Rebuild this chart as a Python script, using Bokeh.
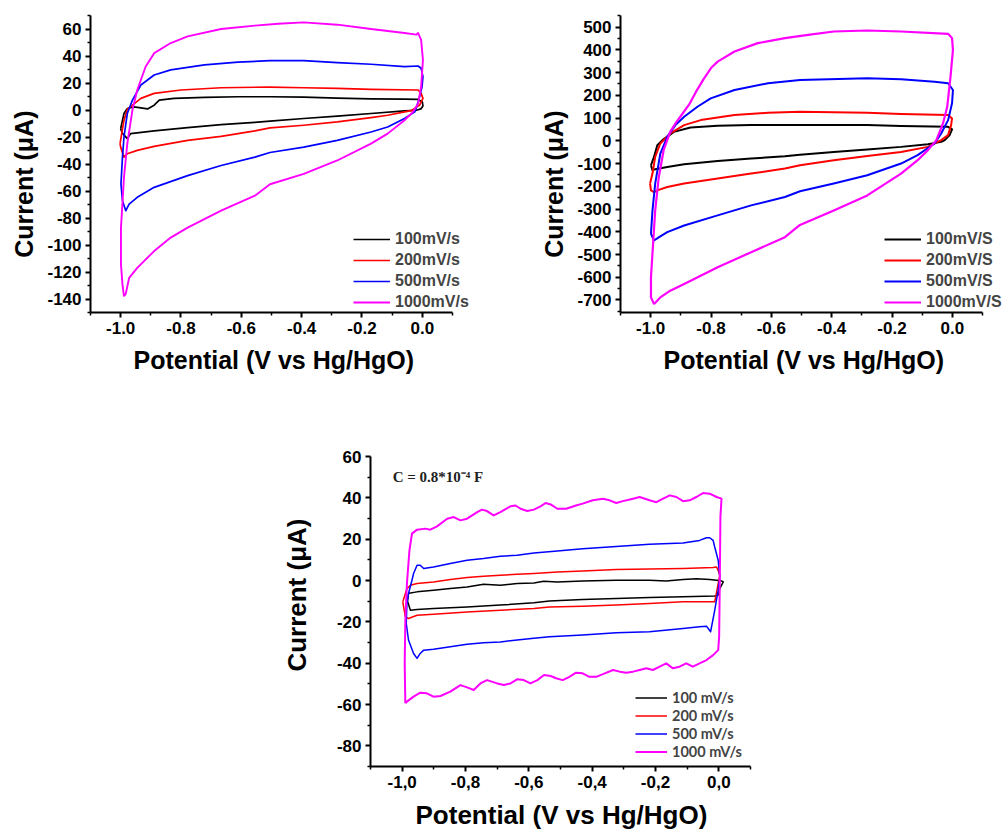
from bokeh.plotting import figure
from bokeh.models import FixedTicker, Legend, LegendItem, Label, Spacer, CustomJSTickFormatter, Range1d, Title
from bokeh.layouts import row, column
from bokeh.embed import file_html
from bokeh.resources import INLINE

# ---------------- data ----------------
series_labels_top_left = ["100mV/s", "200mV/s", "500mV/s", "1000mV/s"]
series_labels_top_right = ["100mV/S", "200mV/S", "500mV/S", "1000mV/S"]
series_labels_bottom = ["100 mV/s", "200 mV/s", "500 mV/s", "1000 mV/s"]
series_colors = ["#000000", "#ff0000", "#0000ff", "#ff00ff"]

# Panel 1 (top left)
p1_black_E = [-1.0, -0.989, -0.978, -0.956, -0.933, -0.911, -0.889, -0.872, -0.823, -0.722, -0.611, -0.505, -0.393, -0.282, -0.17, -0.06, -0.014, 0.0, 0.002, -0.005,
              -0.02, -0.059, -0.17, -0.282, -0.393, -0.505, -0.555, -0.667, -0.778, -0.889, -0.967, -0.978, -0.995, -1.0]
p1_black_I = [-13.8, -2.6, 1.1, 2.3, 1.6, 0.8, 3.6, 7.3, 8.6, 9.3, 9.8, 9.8, 9.5, 8.8, 8.3, 8.0, 7.8, 6.0, 3.0, 0.8,
              -0.2, -0.6, -2.6, -4.6, -6.3, -8.3, -9.1, -10.8, -13.0, -15.5, -17.5, -21.2, -17.0, -13.8]

p1_red_E = [-1.002, -0.994, -0.989, -0.978, -0.961, -0.933, -0.889, -0.8, -0.667, -0.505, -0.393, -0.282, -0.17, -0.014, -0.004, 0.002, -0.009,
            -0.037, -0.059, -0.115, -0.17, -0.282, -0.393, -0.505, -0.555, -0.667, -0.778, -0.889, -0.945, -0.978, -0.989, -1.0, -1.002]
p1_red_I = [-24.9, -14.0, -7.6, 0.4, 3.6, 8.6, 12.3, 14.8, 16.5, 17.0, 16.5, 16.0, 15.3, 14.8, 12.3, 8.6, 3.6,
            -0.5, -1.4, -3.9, -5.6, -8.8, -11.3, -13.3, -15.5, -19.5, -22.5, -27.0, -29.9, -32.4, -34.9, -27.5, -24.9]

p1_blue_E = [-0.999, -0.994, -0.989, -0.978, -0.961, -0.933, -0.889, -0.834, -0.722, -0.611, -0.505, -0.393, -0.282, -0.17, -0.059, -0.014, -0.004, 0.002, -0.001, -0.012,
             -0.025, -0.059, -0.115, -0.17, -0.282, -0.393, -0.505, -0.555, -0.667, -0.778, -0.889, -0.945, -0.972, -0.983, -0.994, -0.999]
p1_blue_I = [-54.8, -34.9, -20.0, -2.6, 7.3, 18.5, 25.9, 29.7, 33.4, 35.4, 36.6, 36.6, 35.1, 33.9, 32.2, 32.6, 30.9, 24.7, 17.2, 7.3,
             -1.4, -6.3, -12.6, -16.3, -22.5, -27.5, -31.5, -34.9, -41.1, -48.6, -57.3, -64.7, -69.7, -74.6, -67.2, -54.8]

p1_mag_E = [-0.989, -0.994, -0.999, -0.999, -0.989, -0.978, -0.961, -0.945, -0.917, -0.889, -0.834, -0.778, -0.667, -0.555, -0.478, -0.393, -0.282, -0.17, -0.059, -0.02, -0.014, -0.004, 0.002, -0.004, -0.014,
            -0.031, -0.059, -0.115, -0.17, -0.282, -0.393, -0.505, -0.555, -0.667, -0.778, -0.834, -0.889, -0.945, -0.972, -0.983, -0.989]
p1_mag_I = [-138.0, -129.3, -114.4, -87.1, -49.8, -24.9, -0.1, 14.8, 32.2, 42.1, 49.6, 54.5, 60.0, 62.5, 63.9, 64.9, 63.2, 60.0, 57.0, 55.8, 57.0, 52.0, 37.1, 17.2, 4.8,
            -1.4, -7.6, -17.5, -24.9, -37.4, -47.3, -55.0, -63.5, -74.6, -87.1, -94.5, -104.5, -116.9, -124.4, -136.0, -138.0]

# Panel 2 (top right)
p2_black_E = [-0.999, -0.989, -0.978, -0.961, -0.923, -0.868, -0.778, -0.667, -0.505, -0.282, -0.17, -0.014, -0.001, -0.009, -0.025,
              -0.037, -0.081, -0.17, -0.282, -0.393, -0.505, -0.555, -0.667, -0.778, -0.889, -0.945, -0.989, -0.994, -0.999]
p2_black_I = [-107.5, -70.8, -19.3, 2.8, 39.4, 58.8, 66.0, 69.0, 69.0, 69.0, 64.6, 61.5, 50.0, 25.0, 3.0,
              -4.7, -14.8, -26.7, -38.0, -48.8, -61.0, -67.8, -78.0, -88.4, -103.0, -114.9, -126.5, -129.5, -107.5]

p2_red_E = [-1.002, -0.994, -0.985, -0.968, -0.935, -0.889, -0.834, -0.722, -0.611, -0.505, -0.282, -0.17, -0.014, -0.001, -0.004, -0.014, -0.037,
            -0.081, -0.17, -0.282, -0.393, -0.505, -0.555, -0.667, -0.778, -0.889, -0.945, -0.978, -0.989, -0.999, -1.002]
p2_red_I = [-188.0, -144.0, -70.8, -11.8, 32.4, 69.0, 91.0, 113.1, 123.4, 127.7, 123.4, 117.5, 113.1, 98.5, 69.0, 25.0, 3.0,
            -26.7, -48.8, -66.4, -85.4, -107.5, -122.0, -144.0, -166.0, -188.0, -203.2, -217.8, -225.2, -217.8, -188.0]

p2_blue_E = [-0.999, -0.994, -0.985, -0.968, -0.945, -0.918, -0.889, -0.845, -0.801, -0.722, -0.611, -0.505, -0.282, -0.17, -0.059, -0.014, 0.002, -0.001, -0.014, -0.037,
             -0.059, -0.115, -0.17, -0.282, -0.393, -0.505, -0.555, -0.667, -0.778, -0.889, -0.945, -0.972, -0.989, -0.999]
p2_blue_I = [-408.8, -306.0, -188.0, -56.0, 17.4, 69.0, 105.6, 149.7, 186.8, 223.4, 253.0, 267.5, 275.0, 270.6, 260.0, 253.0, 223.4, 164.7, 91.0, 32.4,
             -11.8, -63.0, -100.0, -151.6, -188.0, -222.0, -247.3, -284.0, -328.0, -372.2, -401.7, -423.8, -438.4, -408.8]

p2_mag_E = [-0.989, -0.999, -0.999, -0.992, -0.985, -0.973, -0.957, -0.935, -0.916, -0.894, -0.870, -0.850, -0.825, -0.800, -0.778, -0.722, -0.645, -0.555, -0.478, -0.393, -0.282, -0.17, -0.014, -0.001, 0.002, -0.006, -0.017, -0.031,
            -0.053, -0.081, -0.115, -0.17, -0.282, -0.393, -0.505, -0.555, -0.667, -0.778, -0.889, -0.935, -0.968, -0.983, -0.989]
p2_mag_I = [-717.6, -688.5, -600.0, -453.0, -306.0, -159.0, -41.3, 40.0, 80.0, 120.0, 165.0, 215.0, 270.0, 320.0, 348.0, 392.4, 429.4, 451.5, 466.0, 480.6, 485.0, 480.6, 470.4, 451.5, 400.0, 282.0, 149.7, 76.5,
            3.0, -41.0, -85.4, -144.0, -240.0, -306.0, -370.0, -423.8, -490.0, -556.0, -629.4, -659.0, -688.5, -710.0, -717.6]

# Panel 3 (bottom)
p3_black_E = [-0.980, -0.974, -0.953, -0.901, -0.848, -0.795, -0.743, -0.690, -0.637, -0.584, -0.553, -0.510, -0.430, -0.324, -0.219, -0.166, -0.113, -0.071, -0.029, -0.007, 0.0085, 0.014, 0.003,
              -0.002, -0.013, -0.113, -0.219, -0.324, -0.430, -0.535, -0.584, -0.690, -0.795, -0.901, -0.953, -0.974, -0.983, -0.980]
p3_black_I = [-6.3, -6.0, -5.5, -4.7, -3.9, -3.1, -1.8, -2.3, -1.5, -1.2, -0.4, -0.7, -0.2, 0.1, 0.1, -0.2, 0.5, 0.9, 0.5, 0.1, -0.2, -0.7, -3.9,
              -7.1, -7.5, -7.9, -8.2, -8.7, -9.2, -9.9, -10.8, -11.9, -12.8, -13.5, -14.0, -14.4, -10.0, -6.3]

p3_red_E = [-0.998, -0.985, -0.974, -0.953, -0.901, -0.848, -0.795, -0.743, -0.690, -0.637, -0.584, -0.510, -0.430, -0.324, -0.219, -0.113, -0.018, -0.007, -0.002, 0.003,
            -0.013, -0.113, -0.219, -0.324, -0.430, -0.535, -0.584, -0.690, -0.795, -0.901, -0.953, -0.980, -0.990, -0.998]
p3_red_I = [-10.3, -4.0, -2.3, -1.5, -0.7, 0.5, 1.4, 2.1, 2.5, 3.0, 3.4, 4.1, 4.6, 5.3, 5.6, 5.8, 6.3, 6.5, 4.9, 2.5,
            -10.3, -10.3, -11.1, -11.9, -12.4, -12.8, -13.5, -14.4, -15.2, -16.3, -16.8, -18.4, -17.6, -10.3]

p3_blue_E = [-0.987, -0.985, -0.980, -0.969, -0.964, -0.953, -0.943, -0.932, -0.901, -0.848, -0.795, -0.743, -0.690, -0.637, -0.584, -0.510, -0.430, -0.324, -0.219, -0.113, -0.061, -0.039, -0.029, -0.018, -0.013, -0.002, 0.003, -0.002, -0.013, -0.023, -0.026,
             -0.039, -0.061, -0.113, -0.219, -0.324, -0.430, -0.535, -0.584, -0.637, -0.690, -0.743, -0.795, -0.848, -0.901, -0.932, -0.943, -0.953, -0.964, -0.980, -0.987]
p3_blue_I = [-20.8, -11.1, -6.3, 0.1, 3.4, 7.4, 7.4, 5.8, 6.5, 8.2, 9.8, 10.6, 11.7, 12.2, 13.3, 14.3, 15.4, 16.5, 17.5, 18.1, 19.4, 20.7, 20.7, 19.4, 16.2, 9.8, 1.7, -4.7, -14.4, -22.4, -24.8,
             -22.1, -22.4, -23.2, -24.8, -25.3, -26.4, -27.2, -28.0, -28.8, -29.7, -30.1, -30.8, -32.1, -33.3, -33.7, -35.3, -37.7, -35.3, -28.8, -20.8]

p3_mag_E = [-0.990, -0.992, -0.990, -0.985, -0.977, -0.969, -0.953, -0.927, -0.911, -0.890, -0.858, -0.837, -0.816, -0.795, -0.763, -0.748, -0.732, -0.711, -0.690, -0.658, -0.642, -0.626, -0.605, -0.584, -0.563, -0.547, -0.531, -0.510,
            -0.482, -0.451, -0.430, -0.398, -0.366, -0.345, -0.324, -0.303, -0.271, -0.250, -0.219, -0.197, -0.176, -0.155, -0.134, -0.113, -0.092, -0.071, -0.050, -0.029, -0.007, 0.0085,
            0.005, 0.003, 0.001, -0.002,
            -0.018, -0.039, -0.061, -0.082, -0.103, -0.124, -0.145, -0.166, -0.187, -0.208, -0.229, -0.250, -0.271, -0.292, -0.313, -0.334, -0.366, -0.387, -0.409, -0.430, -0.451, -0.472, -0.493, -0.514,
            -0.531, -0.552, -0.573, -0.595, -0.616, -0.637, -0.658, -0.679, -0.700, -0.732, -0.753, -0.774, -0.795, -0.816, -0.848, -0.879, -0.901, -0.922, -0.943, -0.964, -0.985, -0.990]
p3_mag_I = [-59.4, -40.0, -20.0, -1.5, 14.6, 22.7, 24.6, 25.1, 24.6, 26.2, 29.9, 30.7, 29.1, 29.9, 33.1, 34.3, 33.6, 31.5, 33.1, 35.9, 36.3, 34.7, 33.6, 34.3, 35.9, 37.5, 36.8, 34.7,
            34.7, 36.3, 37.2, 38.8, 39.6, 38.8, 37.5, 38.4, 39.6, 40.4, 38.8, 37.9, 39.6, 41.2, 40.4, 38.4, 38.8, 40.4, 42.3, 42.0, 40.4, 39.6,
            30.7, -1.5, -27.2, -33.7,
            -36.1, -38.5, -40.1, -41.7, -40.1, -41.7, -42.5, -40.1, -41.7, -43.3, -42.5, -43.3, -44.1, -44.6, -44.1, -43.3, -45.3, -46.6, -46.6, -44.9, -44.6, -46.6, -48.2, -47.3,
            -46.2, -45.7, -48.2, -49.8, -48.2, -47.8, -49.8, -50.6, -49.8, -48.2, -49.8, -53.0, -51.7, -50.6, -53.8, -55.9, -56.2, -54.6, -54.3, -56.2, -58.6, -59.4]

# axis ticks
x_major = [-1.0, -0.8, -0.6, -0.4, -0.2, 0.0]
x_minor = [-1.1, -0.9, -0.7, -0.5, -0.3, -0.1, 0.1]
p1_y_major = [-140, -120, -100, -80, -60, -40, -20, 0, 20, 40, 60]
p1_y_minor = [-150, -130, -110, -90, -70, -50, -30, -10, 10, 30, 50, 70]
p2_y_major = [-700, -600, -500, -400, -300, -200, -100, 0, 100, 200, 300, 400, 500]
p2_y_minor = [-750, -650, -550, -450, -350, -250, -150, -50, 50, 150, 250, 350, 450, 550]
p3_y_major = [-80, -60, -40, -20, 0, 20, 40, 60]
p3_y_minor = [-90, -70, -50, -30, -10, 10, 30, 50]

x_title = "Potential (V vs Hg/HgO)"
y_title = "Current (\u03bcA)"
note_text = "C = 0.8*10\u207b\u2074 F"

FONT = "Liberation Sans"


def style_axes(p, x_fmt, tick_size):
    for ax in (p.xaxis[0], p.yaxis[0]):
        ax.axis_line_width = 2
        ax.axis_line_color = "black"
        ax.major_tick_line_width = 2
        ax.minor_tick_line_width = 1.5
        ax.major_tick_out = 5
        ax.major_tick_in = 0
        ax.minor_tick_out = 3
        ax.minor_tick_in = 0
        ax.major_label_text_font = FONT
        ax.major_label_text_font_style = "bold"
        ax.major_label_text_font_size = tick_size
        ax.major_label_text_color = "black"
        ax.major_label_standoff = 4
    p.xaxis[0].formatter = CustomJSTickFormatter(code=x_fmt)
    p.yaxis[0].formatter = CustomJSTickFormatter(code="return tick.toFixed(0);")
    p.xaxis[0].bounds = (-1.1, 0.1)


def make_panel(width, height, xr, yr, borders, ymaj, ymin, x_fmt, tick_size):
    l, r, t, b = borders
    p = figure(width=width, height=height, x_range=Range1d(*xr), y_range=Range1d(*yr),
               output_backend="svg", toolbar_location=None,
               min_border_left=l, min_border_right=r, min_border_top=t, min_border_bottom=b)
    p.grid.visible = False
    p.outline_line_color = None
    p.background_fill_color = "white"
    p.border_fill_color = "white"
    p.xaxis[0].ticker = FixedTicker(ticks=x_major, minor_ticks=x_minor)
    p.yaxis[0].ticker = FixedTicker(ticks=ymaj, minor_ticks=ymin)
    style_axes(p, x_fmt, tick_size)
    return p


def add_titles(p, size, x_offset, x_standoff, y_offset, y_standoff):
    p.add_layout(Title(text=x_title, align="left", offset=x_offset, standoff=x_standoff,
                       text_font=FONT, text_font_style="bold", text_font_size=size,
                       text_color="black"), "below")
    p.add_layout(Title(text=y_title, align="right", offset=y_offset, standoff=y_standoff,
                       text_font=FONT, text_font_style="bold", text_font_size=size,
                       text_color="black"), "left")


def add_series(p, Es, Is, labels, lw, loc, font, fsize, glyph_w, item_h):
    items = []
    for E, I, lab, col in zip(Es, Is, labels, series_colors):
        w = lw[1] if col == "#ff00ff" else lw[0]
        r = p.line(E, I, line_color=col, line_width=w, line_join="round")
        items.append(LegendItem(label=lab, renderers=[r]))
    leg = Legend(items=items, location=loc, border_line_color=None, background_fill_alpha=0,
                 padding=0, margin=0, spacing=1, glyph_width=glyph_w, glyph_height=item_h,
                 label_height=item_h, label_standoff=5,
                 label_text_font=font, label_text_font_style="bold", label_text_font_size=fsize)
    p.add_layout(leg)


fmt_dot = "return tick.toFixed(1);"
fmt_comma = "return tick.toFixed(1).replace('.', ',');"

# top-left: frame 90..472 (axis drawn to 452)
p1 = make_panel(475, 420, (-1.1, 0.1663), (-150, 70), (90, 3, 15, 108), p1_y_major, p1_y_minor, fmt_dot, "17px")
add_series(p1, [p1_black_E, p1_red_E, p1_blue_E, p1_mag_E], [p1_black_I, p1_red_I, p1_blue_I, p1_mag_I],
           series_labels_top_left, [1.7, 1.9], (263, 0), FONT, "16px", 37, 20)
add_titles(p1, "25px", 43, 14, 95, 14)

# top-right: frame 620..1003 (axis drawn to 982)
p2 = make_panel(530, 420, (-1.1, 0.1696), (-755, 551), (145, 2, 15, 108), p2_y_major, p2_y_minor, fmt_dot, "17px")
add_series(p2, [p2_black_E, p2_red_E, p2_blue_E, p2_mag_E], [p2_black_I, p2_red_I, p2_blue_I, p2_mag_I],
           series_labels_top_right, [2.0, 2.2], (264, 0), FONT, "16px", 37, 20)
add_titles(p2, "25px", 43, 14, 95, 14)

# bottom: frame 370..760 (axis drawn to 750)
p3 = make_panel(515, 416, (-1.1, 0.1316), (-90, 60), (120, 5, 36, 69), p3_y_major, p3_y_minor, fmt_comma, "17px")
add_series(p3, [p3_black_E, p3_red_E, p3_blue_E, p3_mag_E], [p3_black_I, p3_red_I, p3_blue_I, p3_mag_I],
           series_labels_bottom, [1.5, 2.0], (265, 6), "Lato", "14.5px", 32, 17)
add_titles(p3, "26px", 45, 14, 62, 44)
p3.add_layout(Label(x=-1.03, y=50, text=note_text, text_font="Liberation Serif", text_font_style="bold",
                    text_font_size="15px", text_baseline="middle", text_color="#222222"))

layout = column(row(p1, p2), row(Spacer(width=250, height=416), p3))

open("out.html", "w").write(file_html(layout, INLINE))
